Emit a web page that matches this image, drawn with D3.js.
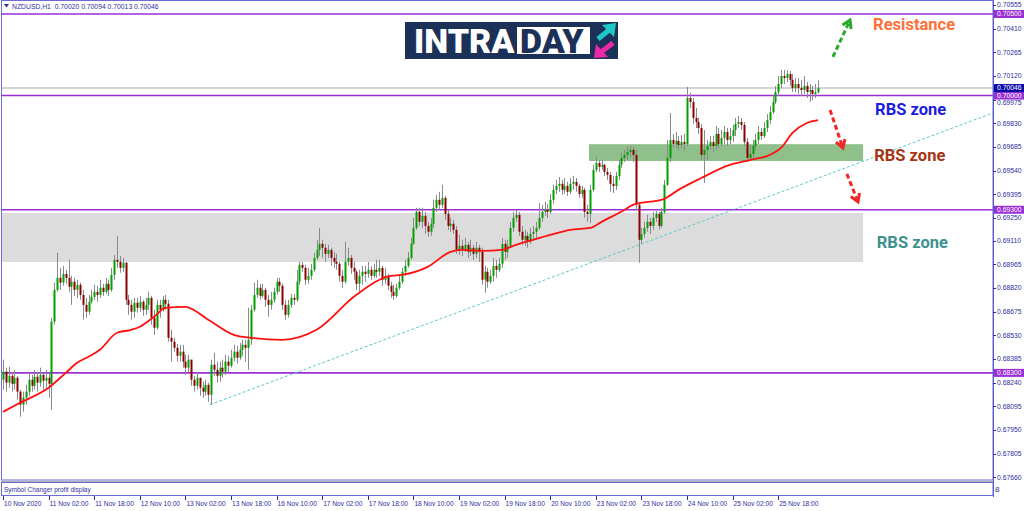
<!DOCTYPE html>
<html><head><meta charset="utf-8">
<script src="https://cdn.jsdelivr.net/npm/d3@7"></script>
<style>body{margin:0;background:#fff;overflow:hidden}svg{display:block}</style>
</head><body>
<svg id="c" width="1024" height="511"></svg>
<script>
// ---------- DATA ----------
const firstOpen = 0.68258;
const closes = [
0.68307,0.68240,0.68282,0.68233,0.68270,0.68185,0.68105,0.68148,0.68185,0.68258,
0.68221,0.68276,0.68240,0.68288,0.68252,0.68270,0.68233,0.68614,0.68809,0.68883,
0.68853,0.68907,0.68883,0.68828,0.68859,0.68809,0.68840,0.68778,0.68717,0.68675,
0.68736,0.68766,0.68797,0.68778,0.68822,0.68797,0.68846,0.68809,0.68901,0.68993,
0.68981,0.68944,0.68975,0.68748,0.68717,0.68675,0.68730,0.68699,0.68736,0.68687,
0.68717,0.68760,0.68638,0.68577,0.68717,0.68687,0.68748,0.68724,0.68515,0.68491,
0.68454,0.68405,0.68430,0.68369,0.68332,0.68381,0.68258,0.68221,0.68270,0.68209,
0.68185,0.68227,0.68166,0.68350,0.68319,0.68282,0.68332,0.68307,0.68369,0.68344,
0.68393,0.68430,0.68393,0.68442,0.68472,0.68454,0.68503,0.68687,0.68778,0.68822,
0.68772,0.68809,0.68748,0.68717,0.68748,0.68797,0.68859,0.68834,0.68717,0.68656,
0.68717,0.68760,0.68748,0.68859,0.68962,0.68944,0.68871,0.68895,0.68932,0.69005,
0.69054,0.69091,0.69067,0.69030,0.69054,0.69005,0.68981,0.68969,0.68895,0.68859,
0.68981,0.69005,0.68944,0.68920,0.68846,0.68895,0.68920,0.68907,0.68932,0.68895,
0.68932,0.68920,0.68944,0.68871,0.68895,0.68834,0.68797,0.68772,0.68822,0.68859,
0.68920,0.68956,0.69005,0.69091,0.69189,0.69287,0.69226,0.69263,0.69201,0.69165,
0.69214,0.69312,0.69361,0.69330,0.69373,0.69275,0.69201,0.69214,0.69177,0.69054,
0.69079,0.69054,0.69085,0.69042,0.69067,0.69030,0.69067,0.69042,0.68871,0.68920,
0.68859,0.68895,0.68956,0.68932,0.68969,0.69091,0.69042,0.69079,0.69189,0.69250,
0.69269,0.69165,0.69116,0.69140,0.69104,0.69152,0.69165,0.69189,0.69250,0.69287,
0.69299,0.69287,0.69361,0.69422,0.69446,0.69459,0.69422,0.69446,0.69410,0.69459,
0.69471,0.69446,0.69397,0.69422,0.69287,0.69275,0.69422,0.69544,0.69587,0.69563,
0.69575,0.69532,0.69514,0.69459,0.69446,0.69507,0.69575,0.69618,0.69636,0.69654,
0.69667,0.69636,0.69330,0.69116,0.69152,0.69189,0.69226,0.69201,0.69250,0.69275,
0.69201,0.69287,0.69453,0.69618,0.69728,0.69703,0.69722,0.69697,0.69716,0.69703,
0.69985,0.69961,0.69863,0.69838,0.69801,0.69636,0.69667,0.69691,0.69716,0.69691,
0.69765,0.69703,0.69740,0.69777,0.69728,0.69752,0.69789,0.69826,0.69838,0.69820,
0.69716,0.69618,0.69642,0.69691,0.69728,0.69777,0.69752,0.69801,0.69850,0.69899,
0.69961,0.70022,0.70071,0.70120,0.70108,0.70132,0.70096,0.70047,0.70071,0.70047,
0.70034,0.70059,0.70022,0.70034,0.70010,0.70020,0.70046];
const highs = [
0.68381,0.68332,0.68338,0.68307,0.68319,0.68282,0.68197,0.68185,0.68227,0.68307,
0.68288,0.68319,0.68307,0.68332,0.68307,0.68319,0.68294,0.68638,0.68853,0.69036,
0.68944,0.68956,0.68932,0.68993,0.68895,0.68883,0.68871,0.68853,0.68809,0.68760,
0.68778,0.68809,0.68840,0.68834,0.68871,0.68846,0.68883,0.68871,0.68944,0.69023,
0.69140,0.69017,0.69005,0.68981,0.68778,0.68748,0.68760,0.68760,0.68772,0.68748,
0.68760,0.68797,0.68772,0.68687,0.68748,0.68748,0.68772,0.68778,0.68748,0.68564,
0.68515,0.68478,0.68472,0.68472,0.68411,0.68411,0.68369,0.68282,0.68307,0.68270,
0.68246,0.68258,0.68240,0.68381,0.68424,0.68369,0.68369,0.68381,0.68411,0.68405,
0.68442,0.68472,0.68466,0.68484,0.68503,0.68503,0.68699,0.68717,0.68853,0.68871,
0.68846,0.68846,0.68822,0.68778,0.68797,0.68822,0.68883,0.68883,0.68846,0.68748,
0.68748,0.68784,0.68784,0.68932,0.68981,0.68981,0.68962,0.68944,0.68969,0.69036,
0.69116,0.69189,0.69116,0.69091,0.69085,0.69067,0.69042,0.69030,0.68981,0.68932,
0.69104,0.69067,0.69023,0.68981,0.68932,0.68932,0.68956,0.68956,0.68981,0.68956,
0.68969,0.68993,0.68993,0.68956,0.68944,0.68907,0.68859,0.68840,0.68846,0.68895,
0.68944,0.68993,0.69042,0.69128,0.69250,0.69312,0.69312,0.69312,0.69287,0.69226,
0.69250,0.69361,0.69392,0.69410,0.69453,0.69385,0.69299,0.69250,0.69238,0.69201,
0.69146,0.69116,0.69128,0.69104,0.69116,0.69085,0.69104,0.69085,0.69067,0.68956,
0.68944,0.68932,0.69005,0.68993,0.69005,0.69128,0.69116,0.69116,0.69226,0.69287,
0.69299,0.69287,0.69201,0.69177,0.69165,0.69189,0.69201,0.69226,0.69342,0.69330,
0.69348,0.69336,0.69397,0.69453,0.69483,0.69501,0.69483,0.69495,0.69471,0.69495,
0.69508,0.69495,0.69459,0.69446,0.69434,0.69330,0.69453,0.69575,0.69624,0.69605,
0.69605,0.69581,0.69556,0.69532,0.69507,0.69532,0.69605,0.69648,0.69667,0.69685,
0.69691,0.69685,0.69667,0.69342,0.69189,0.69226,0.69269,0.69250,0.69287,0.69293,
0.69287,0.69312,0.69483,0.69728,0.69893,0.69765,0.69777,0.69752,0.69758,0.69765,
0.70053,0.70016,0.69985,0.69924,0.69863,0.69826,0.69789,0.69728,0.69752,0.69752,
0.69814,0.69801,0.69789,0.69814,0.69801,0.69801,0.69820,0.69863,0.69875,0.69863,
0.69838,0.69740,0.69697,0.69728,0.69765,0.69814,0.69801,0.69838,0.69887,0.69936,
0.69998,0.70059,0.70120,0.70157,0.70157,0.70157,0.70151,0.70132,0.70108,0.70108,
0.70096,0.70120,0.70083,0.70071,0.70059,0.70071,0.70094];
const lows = [
0.68197,0.68185,0.68209,0.68185,0.68197,0.68136,0.68031,0.68062,0.68105,0.68160,
0.68185,0.68197,0.68185,0.68215,0.68197,0.68209,0.68148,0.68074,0.68595,0.68797,
0.68809,0.68834,0.68846,0.68797,0.68717,0.68772,0.68760,0.68748,0.68626,0.68638,
0.68656,0.68724,0.68748,0.68736,0.68760,0.68772,0.68784,0.68772,0.68797,0.68871,
0.68944,0.68914,0.68920,0.68717,0.68656,0.68626,0.68638,0.68669,0.68675,0.68650,
0.68656,0.68687,0.68595,0.68533,0.68564,0.68638,0.68675,0.68687,0.68491,0.68369,
0.68430,0.68369,0.68369,0.68332,0.68288,0.68307,0.68221,0.68185,0.68197,0.68160,
0.68148,0.68160,0.68124,0.68105,0.68282,0.68240,0.68246,0.68270,0.68288,0.68307,
0.68332,0.68369,0.68356,0.68381,0.68405,0.68369,0.68319,0.68472,0.68675,0.68760,
0.68748,0.68760,0.68705,0.68644,0.68687,0.68730,0.68778,0.68797,0.68687,0.68626,
0.68638,0.68699,0.68717,0.68736,0.68840,0.68920,0.68840,0.68846,0.68871,0.68920,
0.68993,0.69017,0.69005,0.68981,0.69005,0.68956,0.68944,0.68932,0.68859,0.68822,
0.68846,0.68956,0.68907,0.68871,0.68809,0.68797,0.68840,0.68859,0.68883,0.68871,
0.68883,0.68883,0.68895,0.68834,0.68846,0.68809,0.68760,0.68748,0.68760,0.68809,
0.68846,0.68895,0.68944,0.68993,0.69085,0.69177,0.69201,0.69189,0.69152,0.69134,
0.69140,0.69189,0.69287,0.69299,0.69312,0.69238,0.69177,0.69165,0.69152,0.69030,
0.69023,0.69017,0.69042,0.69005,0.69017,0.68993,0.69005,0.68981,0.68840,0.68791,
0.68822,0.68846,0.68859,0.68883,0.68920,0.68944,0.68993,0.69005,0.69067,0.69165,
0.69226,0.69140,0.69085,0.69079,0.69067,0.69091,0.69116,0.69128,0.69177,0.69226,
0.69263,0.69250,0.69275,0.69336,0.69397,0.69410,0.69392,0.69397,0.69385,0.69397,
0.69422,0.69410,0.69373,0.69373,0.69250,0.69226,0.69220,0.69410,0.69532,0.69532,
0.69544,0.69507,0.69483,0.69410,0.69403,0.69422,0.69483,0.69556,0.69593,0.69605,
0.69618,0.69593,0.69299,0.68975,0.69091,0.69128,0.69165,0.69152,0.69177,0.69226,
0.69177,0.69189,0.69275,0.69446,0.69593,0.69679,0.69679,0.69667,0.69679,0.69667,
0.69691,0.69924,0.69826,0.69801,0.69765,0.69605,0.69464,0.69605,0.69667,0.69654,
0.69667,0.69679,0.69691,0.69703,0.69691,0.69703,0.69716,0.69752,0.69801,0.69789,
0.69691,0.69593,0.69605,0.69618,0.69667,0.69703,0.69728,0.69740,0.69777,0.69826,
0.69887,0.69948,0.69998,0.70046,0.70071,0.70083,0.70059,0.70022,0.70022,0.70010,
0.69998,0.70010,0.69985,0.69961,0.69973,0.69985,0.70013];

const maBars = [0,6,16,22,26,30,34,40,45,48,53,57,64,72,81,87,98,110,124,136,140,149,157,161,168,175,180,186,192,199,206,210,218,221,232,237,245,255,262,269,273,277,282,286];
const maValues = [0.68061,0.68117,0.68209,0.68300,0.68362,0.68399,0.68442,0.68546,0.68564,0.68583,0.68644,0.68699,0.68705,0.68626,0.68533,0.68515,0.68503,0.68564,0.68779,0.68895,0.68901,0.68950,0.69042,0.69054,0.69048,0.69054,0.69085,0.69116,0.69146,0.69177,0.69189,0.69226,0.69299,0.69330,0.69367,0.69422,0.69495,0.69575,0.69605,0.69636,0.69679,0.69771,0.69832,0.69850];

const timeLabels = ["10 Nov 2020","11 Nov 02:00","11 Nov 18:00","12 Nov 10:00","13 Nov 02:00","13 Nov 18:00","16 Nov 10:00","17 Nov 02:00","17 Nov 18:00","18 Nov 10:00","19 Nov 02:00","19 Nov 18:00","20 Nov 10:00","23 Nov 02:00","23 Nov 18:00","24 Nov 10:00","25 Nov 02:00","25 Nov 18:00"];
const timeLabelBars = [0,16,32,48,64,80,96,112,128,144,160,176,192,208,224,240,256,272];
const priceTicks = [0.70555,0.70410,0.70265,0.70120,0.69975,0.69830,0.69685,0.69540,0.69395,0.69250,0.69110,0.68965,0.68820,0.68675,0.68530,0.68385,0.68240,0.68095,0.67950,0.67805,0.67660];
const levelPrices = [0.70500,0.70000,0.69300,0.68300];
const currentPrice = 0.70046;
const headerText = "NZDUSD,H1  0.70020 0.70094 0.70013 0.70046";

// zones: [bar start, bar end, top price, bottom price]
const grayZone = [-0.4, 301.8, 0.69280, 0.68980];
const greenZone = [205.6, 301.8, 0.69702, 0.69599];
// trend line anchors [bar, price]
const trendStart = [72.6, 0.68105];
const trendEnd = [286, 0.69494];
// arrows [bar0, price0, bar1, price1]
const arrowGreen = [291.2, 0.70237, 297.2, 0.70463];
const arrowRed1 = [290.2, 0.69912, 294.7, 0.69679];
const arrowRed2 = [296.1, 0.69520, 300.0, 0.69348];
// annotations
const noteTexts = ["Resistance","RBS zone","RBS zone","RBS zone"];
const noteBars = [305.3, 306.0, 305.7, 306.6];
const notePrices = [0.70402, 0.69881, 0.69599, 0.69067];
const noteColors = ["#ff7038","#1c1ce0","#a83414","#3d918c"];

// ---------- SCALES ----------
const svg = d3.select("#c");
const x = d3.scaleLinear().domain([0, 286]).range([3, 818.1]);
const y = d3.scaleLinear().domain([0.67660, 0.70500]).range([477.3, 14]);
const plotRight = 993, plotBottom = 480;
const axisColor = "#2e2ea0";
const font = "'Liberation Sans', Arial, sans-serif";

const defs = svg.append("defs");
defs.append("clipPath").attr("id","plot").append("rect").attr("x",1).attr("y",1).attr("width",plotRight-1).attr("height",plotBottom-1);

const g = svg.append("g").attr("clip-path","url(#plot)");

// zones
g.append("rect").attr("x", x(grayZone[0])).attr("width", x(grayZone[1]) - x(grayZone[0]))
 .attr("y", y(grayZone[2])).attr("height", y(grayZone[3]) - y(grayZone[2])).attr("fill","#dcdcdc");
g.append("rect").attr("x", x(greenZone[0])).attr("width", x(greenZone[1]) - x(greenZone[0]))
 .attr("y", y(greenZone[2])).attr("height", y(greenZone[3]) - y(greenZone[2])).attr("fill","#8fbf8a");

// current price line
g.append("line").attr("x1",1).attr("x2",plotRight).attr("y1",y(currentPrice)).attr("y2",y(currentPrice))
 .attr("stroke","#c4c4c4").attr("stroke-width",1.5);

// horizontal levels
g.selectAll(".lvl").data(levelPrices).enter().append("line")
 .attr("x1",1).attr("x2",plotRight).attr("y1",d=>y(d)).attr("y2",d=>y(d))
 .attr("stroke","#9a2fd6").attr("stroke-width",1.6);

// trend line (ray)
{
  const slope = (trendEnd[1]-trendStart[1])/(trendEnd[0]-trendStart[0]);
  const endBar = x.invert(plotRight);
  g.append("line").attr("x1",x(trendStart[0])).attr("y1",y(trendStart[1]))
   .attr("x2",x(endBar)).attr("y2",y(trendStart[1]+slope*(endBar-trendStart[0])))
   .attr("stroke","#5cc8c8").attr("stroke-width",1).attr("stroke-dasharray","3,2");
}

// candles
const opens = closes.map((c,i)=> i===0 ? firstOpen : closes[i-1]);
const bars = closes.map((c,i)=>({i, o:opens[i], c, h:Math.max(highs[i],opens[i],c), l:Math.min(lows[i],opens[i],c)}));
g.selectAll(".wick").data(bars).enter().append("line")
 .attr("x1",d=>Math.round(x(d.i))+0.5).attr("x2",d=>Math.round(x(d.i))+0.5)
 .attr("y1",d=>y(d.h)).attr("y2",d=>y(d.l)).attr("stroke","#8a8a8a").attr("stroke-width",1);
g.selectAll(".body").data(bars).enter().append("rect")
 .attr("x",d=>Math.round(x(d.i))-0.5).attr("width",2)
 .attr("y",d=>y(Math.max(d.o,d.c))).attr("height",d=>Math.max(1,Math.abs(y(d.o)-y(d.c))))
 .attr("fill",d=>d.c>=d.o?"#00a000":"#8b0000");

// moving average
g.append("path").datum(maBars.map((b,k)=>[b,maValues[k]]))
 .attr("d", d3.line().x(d=>x(d[0])).y(d=>y(d[1])).curve(d3.curveMonotoneX))
 .attr("fill","none").attr("stroke","#ff1010").attr("stroke-width",1.8);

// arrows
function arrow(a, color){
  const x0=x(a[0]), y0=y(a[1]), x1=x(a[2]), y1=y(a[3]);
  const ang = Math.atan2(y1-y0, x1-x0);
  const len = Math.hypot(x1-x0,y1-y0);
  const gg = g.append("g");
  gg.append("line").attr("x1",x0).attr("y1",y0)
    .attr("x2",x0+Math.cos(ang)*(len-3)).attr("y2",y0+Math.sin(ang)*(len-3))
    .attr("stroke",color).attr("stroke-width",3).attr("stroke-dasharray","5,3");
  const hl=9, ha=0.55;
  const p1=[x1-hl*Math.cos(ang-ha), y1-hl*Math.sin(ang-ha)];
  const p2=[x1-hl*Math.cos(ang+ha), y1-hl*Math.sin(ang+ha)];
  gg.append("path").attr("d",`M${p1[0]},${p1[1]}L${x1},${y1}L${p2[0]},${p2[1]}`)
    .attr("fill","none").attr("stroke",color).attr("stroke-width",3).attr("stroke-linejoin","miter");
}
arrow(arrowGreen,"#2aa82a");
arrow(arrowRed1,"#f02828");
arrow(arrowRed2,"#f02828");

// annotation texts
noteTexts.forEach((t,k)=>{
  g.append("text").attr("x",x(noteBars[k])).attr("y",y(notePrices[k])).text(t)
   .attr("fill",noteColors[k]).attr("font-family","Roboto, sans-serif").attr("font-weight","bold")
   .attr("font-size",16.5);
});

// logo
{
  const L = svg.append("g");
  L.append("rect").attr("x",405).attr("y",22).attr("width",213).attr("height",37).attr("fill","#1b3158");
  L.append("text").attr("x",414).attr("y",53).text("INTRA").attr("fill","#fff")
   .attr("font-family","Roboto, sans-serif").attr("font-weight","900").attr("font-size",34);
  L.append("rect").attr("x",517).attr("y",27).attr("width",73).attr("height",27).attr("fill","#fff");
  L.append("text").attr("x",520).attr("y",53).text("DAY").attr("fill","#1b3158")
   .attr("font-family","Roboto, sans-serif").attr("font-weight","900").attr("font-size",34);
  L.append("line").attr("x1",598).attr("y1",39).attr("x2",609).attr("y2",30).attr("stroke","#1ec8c8").attr("stroke-width",5);
  L.append("path").attr("d","M616,23 L602,25 L614,37 Z").attr("fill","#1ec8c8");
  L.append("line").attr("x1",613).attr("y1",43).attr("x2",601).attr("y2",52).attr("stroke","#ec2aa6").attr("stroke-width",5);
  L.append("path").attr("d","M594,58 L608,57 L596,44 Z").attr("fill","#ec2aa6");
}

// frame
svg.append("rect").attr("x",1.5).attr("y",0.5).attr("width",plotRight-1.5).attr("height",plotBottom-0.5)
 .attr("fill","none").attr("stroke","#6b6bd6").attr("stroke-width",1);
svg.append("line").attr("x1",1).attr("x2",plotRight).attr("y1",481.5).attr("y2",481.5).attr("stroke","#b0b0b0");
svg.append("rect").attr("x",1.5).attr("y",482.5).attr("width",plotRight-1.5).attr("height",13)
 .attr("fill","#fff").attr("stroke","#6b6bd6").attr("stroke-width",1);
svg.append("text").attr("x",4).attr("y",491.5).text("Symbol Changer profit display")
 .attr("font-family",font).attr("font-size",6.5).attr("fill",axisColor);
svg.append("text").attr("x",995).attr("y",492).text("8")
 .attr("font-family",font).attr("font-size",8).attr("fill",axisColor);
svg.append("line").attr("x1",plotRight+0.5).attr("x2",plotRight+0.5).attr("y1",0).attr("y2",497).attr("stroke","#5a5ad0");

// header
svg.append("path").attr("d","M4,4 L9,4 L6.5,7.5 Z").attr("fill","#2e2ea0");
svg.append("text").attr("x",12).attr("y",8.5).text(headerText).attr("font-family",font)
 .attr("font-size",6.8).attr("fill",axisColor).attr("xml:space","preserve");

// price axis
const pa = svg.append("g");
const boxPrices = levelPrices.concat([currentPrice]);
// labels partly hidden behind a level box in the reference are shown just below it
const labelY = d => {
  const hit = boxPrices.find(v => Math.abs(y(v) - y(d)) < 7 && y(d) > y(v));
  return hit !== undefined ? y(hit) + 9.2 : y(d) + 2.4;
};
pa.selectAll(".pt").data(priceTicks).enter().append("line")
 .attr("x1",plotRight).attr("x2",plotRight+3).attr("y1",d=>Math.round(y(d))+0.5).attr("y2",d=>Math.round(y(d))+0.5)
 .attr("stroke",axisColor);
pa.selectAll(".pl").data(priceTicks).enter().append("text")
 .attr("x",plotRight+4).attr("y",labelY).text(d=>d.toFixed(5))
 .attr("font-family",font).attr("font-size",6.8).attr("fill",axisColor);

// level boxes
function priceBox(v, color){
  pa.append("rect").attr("x",plotRight+1).attr("y",y(v)-4).attr("width",31).attr("height",8).attr("fill",color);
  pa.append("text").attr("x",plotRight+4).attr("y",y(v)+2.4).text(v.toFixed(5))
   .attr("font-family",font).attr("font-size",6.8).attr("fill","#fff");
}
levelPrices.forEach(v=>priceBox(v,"#9a2fd6"));
priceBox(currentPrice,"#0a0aa8");

// time axis
const ta = svg.append("g");
ta.selectAll(".tt").data(timeLabelBars).enter().append("line")
 .attr("x1",d=>Math.round(x(d))+0.5).attr("x2",d=>Math.round(x(d))+0.5).attr("y1",496).attr("y2",500)
 .attr("stroke",axisColor);
ta.selectAll(".tl").data(timeLabelBars).enter().append("text")
 .attr("x",d=>x(d)+1).attr("y",506).text((d,k)=>timeLabels[k])
 .attr("font-family",font).attr("font-size",6.6).attr("fill",axisColor);
</script>
</body></html>
